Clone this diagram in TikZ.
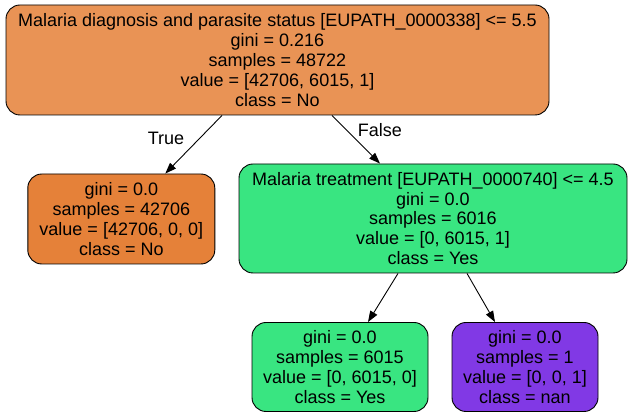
\documentclass[tikz,border=0pt]{standalone}
\usepackage{fontspec}
\setmainfont{Liberation Sans}
\usetikzlibrary{arrows.meta}
\definecolor{rootc}{HTML}{E99355}
\definecolor{orangec}{HTML}{E58139}
\definecolor{greenc}{HTML}{39E581}
\definecolor{purplec}{HTML}{8139E5}
\begin{document}
\begin{tikzpicture}[x=1pt,y=-1pt,
  tnode/.style={draw=black,line width=0.9pt,rounded corners=14pt,align=center,inner sep=0pt,
    font=\fontsize{18}{19.9}\selectfont},
  edge/.style={line width=0.9pt,-{Triangle[length=11pt,width=8pt]}},
  elabel/.style={font=\fontsize{18}{19.9}\selectfont}]
\useasboundingbox (0,0) rectangle (633,419);
\node[tnode,fill=rootc,minimum width=543pt,minimum height=110pt] (root) at (277.5,60)
  {Malaria diagnosis and parasite status [EUPATH\_0000338] <= 5.5\\gini = 0.216\\samples = 48722\\value = [42706, 6015, 1]\\class = No};
\node[tnode,fill=orangec,minimum width=187pt,minimum height=90pt] (left) at (121.3,219)
  {gini = 0.0\\samples = 42706\\value = [42706, 0, 0]\\class = No};
\node[tnode,fill=greenc,minimum width=388pt,minimum height=109pt] (mid) at (433,218.5)
  {Malaria treatment [EUPATH\_0000740] <= 4.5\\gini = 0.0\\samples = 6016\\value = [0, 6015, 1]\\class = Yes};
\node[tnode,fill=greenc,minimum width=176pt,minimum height=89pt] (bl) at (340,367)
  {gini = 0.0\\samples = 6015\\value = [0, 6015, 0]\\class = Yes};
\node[tnode,fill=purplec,minimum width=146pt,minimum height=89pt] (br) at (525,367)
  {gini = 0.0\\samples = 1\\value = [0, 0, 1]\\class = nan};
\draw[edge] ([xshift=-55.5pt]root.south) -- ([xshift=44pt]left.north);
\draw[edge] ([xshift=54.5pt]root.south) -- ([xshift=-53pt]mid.north);
\draw[edge] ([xshift=-35pt]mid.south) -- ([xshift=28pt]bl.north);
\draw[edge] ([xshift=34pt]mid.south) -- ([xshift=-30pt]br.north);
\node[elabel] (tl) at (166,138) {True};
\node[elabel] (fl) at (380,130) {False};
\end{tikzpicture}
\end{document}
